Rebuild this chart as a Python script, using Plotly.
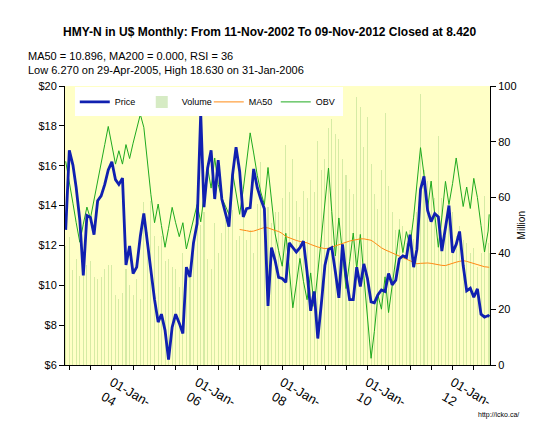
import pandas as pd
import plotly.graph_objects as go

# ---------------- data ----------------
month_starts = pd.date_range("2002-11-01", periods=120, freq="MS")
dates = [(d + pd.offsets.MonthEnd(0)).strftime("%Y-%m-%d") for d in month_starts] + ["2012-11-09"]

price = [12.78, 16.77, 16.03, 14.9, 13.27, 10.5, 13.5, 13.4, 12.54, 14.24,
         14.49, 15.06, 15.79, 16.2, 15.3, 15.06, 15.38, 11.02, 11.97, 10.59,
         10.91, 12.46, 13.6, 12.13, 10.67, 9.28, 8.15, 8.55, 7.74, 6.27,
         7.9, 8.55, 8.1, 7.58, 10.91, 10.42, 12.13, 13.1, 18.63, 13.92,
         15.87, 16.77, 14.33, 16.28, 14.33, 13.6, 12.94, 15.54, 16.93, 15.71,
         13.43, 13.84, 13.89, 15.84, 14.9, 14.33, 13.84, 8.96, 11.89, 11.24,
         10.4, 10.34, 10.15, 12.13, 11.89, 11.67, 11.89, 12.21, 10.67, 8.72,
         9.69, 7.33, 9.04, 10.99, 11.8, 11.89, 10.67, 9.37, 12.05, 10.5,
         9.28, 9.28, 10.91, 9.94, 11.07, 10.34, 9.17, 9.12, 9.53, 9.77,
         9.69, 10.59, 10.02, 10.26, 11.32, 11.48, 11.4, 12.54, 10.91, 11.8,
         14.81, 15.46, 13.76, 13.19, 13.6, 13.43, 11.72, 12.94, 14.0, 11.64,
         12.05, 12.7, 10.99, 9.72, 9.85, 9.4, 9.82, 8.55, 8.4, 8.48,
         8.42]

ma50 = [12.8, 12.78, 12.74, 12.7, 12.72, 12.78, 12.85, 12.9, 12.88, 12.8,
        12.75, 12.7, 12.6, 12.45, 12.38, 12.3, 12.25, 12.2, 12.17, 12.13,
        12.05, 11.98, 11.92, 11.88, 11.84, 11.86, 11.92, 11.98, 12.05, 12.1,
        12.16, 12.22, 12.26, 12.3, 12.33, 12.33, 12.3, 12.26, 12.15, 12.0,
        11.88, 11.78, 11.7, 11.62, 11.53, 11.45, 11.38, 11.3, 11.22, 11.14,
        11.08, 11.1, 11.12, 11.12, 11.1, 11.06, 11.03, 11.0, 10.99, 11.05,
        11.12, 11.16, 11.2, 11.24, 11.2, 11.14, 11.08, 11.03, 10.98, 10.93,
        10.91, 10.9]
ma50_dates = dates[len(dates) - len(ma50):]

obv = [73, 66, 58, 51, 44, 50.5, 56.6, 52.5, 59.5, 66,
       72.5, 79, 85.5, 79, 72, 76.8, 72, 79, 74, 79.5,
       84.5, 89.8, 85.2, 72, 61, 51, 57.7, 50, 42.2, 49,
       56.5, 51, 46, 51, 41.6, 47, 52, 57.5, 51.3, 61,
       70.7, 63.4, 74.2, 64.7, 59.8, 57, 54, 69, 62, 54,
       63, 73, 83.2, 76, 68, 62, 57.5, 70.8, 59, 47,
       41, 35.4, 47.2, 34, 20.5, 29, 38.2, 30, 23.4, 33,
       21, 33, 46, 58, 70.6, 55, 39.1, 52.7, 40, 27.4,
       37, 47.3, 34.5, 46.8, 32, 17, 2.4, 12, 25, 20,
       31.6, 18.8, 28, 38, 48.5, 40.3, 47.8, 42.6, 53, 65,
       77.9, 68.2, 56, 65.9, 55, 42.2, 53, 65.8, 57.5, 65,
       74.2, 65, 56.8, 63.8, 56.1, 66.9, 60, 50, 40.5, 48,
       54]

volume = [42.6, 46, 34, 38, 32, 34, 36, 37.4, 31.6, 31,
          31.6, 34.5, 35.7, 36, 25.2, 23.5, 25.8, 34.5, 28.7, 25.2,
          31, 23.5, 58.3, 47.8, 58.9, 46.1, 42.6, 46.1, 37.4, 37.9,
          35, 34.5, 28.1, 40.3, 35.1, 31.6, 40.3, 51.9, 50.2, 54.8,
          37.9, 34.5, 50.8, 40.3, 47.3, 51.9, 54.8, 55.4, 44.9, 46.1,
          53.1, 44.9, 48.4, 40.3, 57.7, 72.8, 48.9, 56.6, 50.8, 55,
          55, 60, 78.7, 62, 74, 58.9, 53, 62.4, 60, 66.4,
          62, 80.4, 70, 74, 85, 88, 82.7, 81, 74, 68.2,
          63, 61.2, 96.1, 92.6, 78, 89, 72, 61.2, 56, 70,
          90.3, 64.1, 55, 48.4, 52.5, 50, 43.7, 48.4, 45, 55,
          97.2, 70, 65.8, 65.8, 60, 82.1, 60, 46.1, 53.1, 55,
          46.1, 50, 44.9, 43.7, 40.3, 42, 35.1, 40, 60.6, 43.7,
          40]

tick_dates = [d.strftime("%Y-%m-%d") for d in pd.date_range("2003-01-01", "2012-07-01", freq="6MS")]
tick_text = [("01-Jan-<br>" + d[2:4]) if (d[5:7] == "01" and int(d[:4]) % 2 == 0) else "" for d in tick_dates]

price_ticks = [6, 8, 10, 12, 14, 16, 18, 20]
price_tick_text = ["$6", "$8", "$10", "$12", "$14", "$16", "$18", "$20"]
vol_ticks = [0, 20, 40, 60, 80, 100]

FONT = "Liberation Sans, Arial, sans-serif"

# ---------------- figure ----------------
fig = go.Figure()

fig.add_trace(go.Bar(
    x=dates, y=volume, name="Volume", yaxis="y",
    marker=dict(color="rgba(165,210,125,0.45)", line=dict(width=0)),
    width=9 * 86400000, legendrank=2,
))
fig.add_trace(go.Scatter(
    x=dates, y=obv, name="OBV", yaxis="y", mode="lines",
    line=dict(color="#1FAA1F", width=1), legendrank=4,
))
fig.add_trace(go.Scatter(
    x=ma50_dates, y=ma50, name="MA50", yaxis="y2", mode="lines",
    line=dict(color="#FF8A14", width=1), legendrank=3,
))
fig.add_trace(go.Scatter(
    x=dates, y=price, name="Price", yaxis="y2", mode="lines",
    line=dict(color="#1020B0", width=2.8), legendrank=1,
))

axis_common = dict(showline=True, linecolor="black", linewidth=1, ticks="outside",
                   ticklen=5, tickcolor="black", showgrid=False, zeroline=False,
                   tickfont=dict(family=FONT, size=11, color="black"))

fig.update_layout(
    width=534, height=428,
    margin=dict(l=57, r=52, t=78, b=63),
    paper_bgcolor="white",
    plot_bgcolor="#FFFFC6",
    font=dict(family=FONT, size=11, color="black"),
    bargap=0,
    xaxis=dict(
        type="date", range=["2002-11-24", "2012-11-16"],
        tickmode="array", tickvals=tick_dates, ticktext=tick_text,
        tickangle=30, showline=True, linecolor="black", linewidth=1,
        ticks="outside", ticklen=4, tickcolor="black", showgrid=False,
        zeroline=False, tickfont=dict(family=FONT, size=13, color="black"),
    ),
    yaxis=dict(
        side="right", range=[0, 100], tickmode="array", tickvals=vol_ticks,
        **axis_common,
    ),
    yaxis2=dict(
        side="left", overlaying="y", range=[6, 20], tickmode="array",
        tickvals=price_ticks, ticktext=price_tick_text, **axis_common,
    ),
    legend=dict(
        orientation="h", x=0.023, y=0.995, xanchor="left", yanchor="top",
        bgcolor="white", font=dict(family=FONT, size=9), itemwidth=30,
        tracegroupgap=0, entrywidthmode="pixels", entrywidth=22,
    ),
    annotations=[
        dict(text="<b>HMY-N in U$ Monthly: From 11-Nov-2002 To 09-Nov-2012 Closed at 8.420</b>",
             xref="paper", yref="paper", x=0.482, y=1.195, xanchor="center", yanchor="middle",
             showarrow=False, font=dict(family=FONT, size=12)),
        dict(text="MA50 = 10.896, MA200 = 0.000, RSI = 36",
             xref="paper", yref="paper", x=-0.0918, y=1.106, xanchor="left", yanchor="middle",
             showarrow=False, font=dict(family=FONT, size=11)),
        dict(text="Low 6.270 on 29-Apr-2005, High 18.630 on 31-Jan-2006",
             xref="paper", yref="paper", x=-0.0918, y=1.059, xanchor="left", yanchor="middle",
             showarrow=False, font=dict(family=FONT, size=11)),
        dict(text="Million", textangle=-90,
             xref="paper", yref="paper", x=1.075, y=0.5, xanchor="center", yanchor="middle",
             showarrow=False, font=dict(family=FONT, size=10)),
        dict(text="http://icko.ca/",
             xref="paper", yref="paper", x=1.073, y=-0.181, xanchor="right", yanchor="middle",
             showarrow=False, font=dict(family=FONT, size=7)),
    ],
)

fig.write_html("out.html")
